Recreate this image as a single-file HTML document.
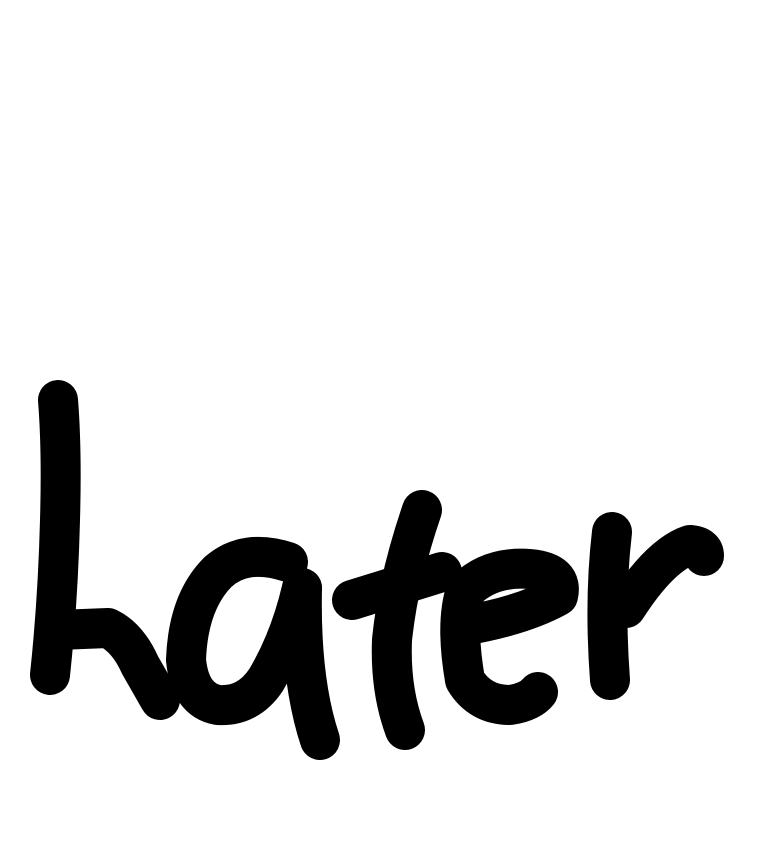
<!DOCTYPE html>
<html>
<head>
<meta charset="utf-8">
<style>
  html, body { margin: 0; padding: 0; background: #fff; }
  body { width: 768px; height: 866px; overflow: hidden; }
  svg { display: block; }
</style>
</head>
<body>
<svg width="768" height="866" viewBox="0 0 768 866" xmlns="http://www.w3.org/2000/svg">
  <title>later</title>
  <rect width="768" height="866" fill="#fff"/>
  <g fill="none" stroke="#000" stroke-width="40" stroke-linecap="round" stroke-linejoin="round">
    <!-- h -->
    <path d="M58,400 Q62,450 60,520 Q58,600 50,675"/>
    <path d="M58,630 L108,628 Q128,638 140,665 L160,700"/>
    <!-- a -->
    <path d="M288,562 Q245,548 218,572 Q188,602 186,660 Q190,700 218,705 Q248,707 266,680 Q290,640 302,588"/>
    <path d="M302,588 Q300,680 320,740"/>
    <!-- t -->
    <path d="M422,510 Q398,580 392,640 Q390,690 405,730"/>
    <path d="M352,600 L442,572"/>
    <!-- e -->
    <path d="M462,626 Q522,616 558,596 Q564,572 530,569 Q490,566 466,590 Q455,622 465,680 Q480,705 510,705 Q530,702 538,692"/>
    <!-- r -->
    <path d="M612,532 Q604,600 610,680"/>
    <path d="M626,608 Q660,555 690,545 Q704,546 704,556"/>
  </g>
  <text x="-100" y="-100" font-family="Liberation Sans, sans-serif" font-size="10" fill="#fff">later</text>
</svg>
</body>
</html>
